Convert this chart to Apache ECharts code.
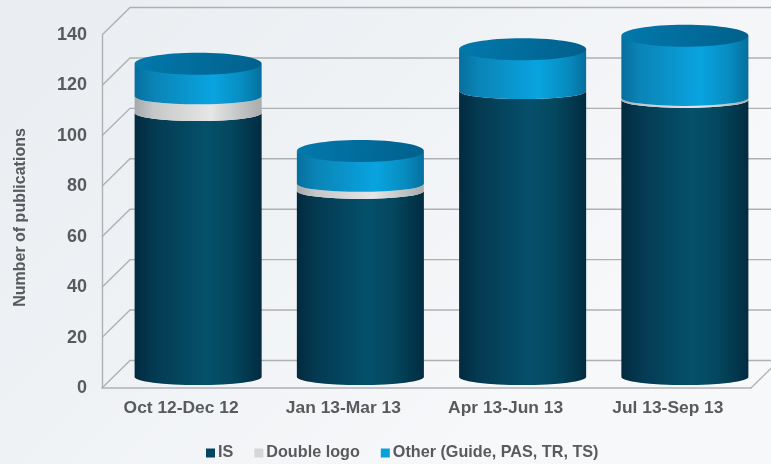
<!DOCTYPE html>
<html>
<head>
<meta charset="utf-8">
<style>html,body{margin:0;padding:0;background:#f0f2f5;overflow:hidden}#c{width:771px;height:464px}</style>
<script src="https://cdn.jsdelivr.net/npm/echarts@6/dist/echarts.min.js"></script>
</head>
<body>
<div id="c"></div>
<script>
var categories = ['Oct 12-Dec 12', 'Jan 13-Mar 13', 'Apr 13-Jun 13', 'Jul 13-Sep 13'];
var isValues = [104.7, 73.8, 113.4, 109.9];
var doubleLogoValues = [6.6, 2.8, 0, 0.8];
var otherValues = [12.9, 13, 16.6, 24.6];
var yTicks = [0, 20, 40, 60, 80, 100, 120, 140];

var DEPTH_X = 28, DEPTH_Y = 27.5, BAR_DX = 15, BAR_DY = 11, BAR_RATIO = 0.783, RY = 8, RY_TOP = 11;
var GRID_COLOR = '#aeb1b4', TEXT_COLOR = '#595a5c';

function hGrad(stops) {
  return {type: 'linear', x: 0, y: 0, x2: 1, y2: 0,
    colorStops: stops.map(function (s) { return {offset: s[0], color: s[1]}; })};
}
var STYLES = {
  is: hGrad([[0, '#022a3e'], [0.15, '#043a51'], [0.55, '#05506b'], [0.75, '#04485f'], [1, '#022c41']]),
  dl: hGrad([[0, '#a6a8a9'], [0.15, '#c6c7c8'], [0.6, '#e6e6e6'], [1, '#a9abac']]),
  other: hGrad([[0, '#066f9e'], [0.15, '#0a84b6'], [0.62, '#09a4e0'], [0.85, '#078cc0'], [1, '#056f9e']])
};
var CAP_FILL = {type: 'linear', x: 0, y: 0, x2: 1, y2: 1,
  colorStops: [{offset: 0, color: '#0279ac'}, {offset: 0.6, color: '#016a99'}, {offset: 1, color: '#01608c'}]};

var cum0 = isValues.map(function (v) { return 0; });
var cum1 = isValues.slice();
var cum2 = isValues.map(function (v, i) { return v + doubleLogoValues[i]; });
var cum3 = cum2.map(function (v, i) { return v + otherValues[i]; });

function cylinder(fill, hasCap) {
  return function (params, api) {
    var lo = api.coord([api.value(0), api.value(1)]);
    var hi = api.coord([api.value(0), api.value(2)]);
    var bw = api.size([1, 0])[0] * BAR_RATIO;
    var cx = lo[0] + BAR_DX;
    var y0 = lo[1] - BAR_DY, y1 = hi[1] - BAR_DY;
    var xl = cx - bw / 2, xr = cx + bw / 2, rx = bw / 2;
    var children = [];
    if (y0 - y1 > 0.01) {
      var p = 'M' + xl + ' ' + y1 +
        ' A' + rx + ' ' + RY + ' 0 0 0 ' + xr + ' ' + y1 +
        ' L' + xr + ' ' + y0 +
        ' A' + rx + ' ' + RY + ' 0 0 1 ' + xl + ' ' + y0 + ' Z';
      children.push({type: 'path', shape: {pathData: p, x: xl, y: y1, width: bw, height: y0 - y1 + RY, layout: 'cover'},
        style: {fill: fill}});
    }
    if (hasCap) {
      children.push({type: 'ellipse', shape: {cx: cx, cy: y1, rx: rx, ry: RY_TOP}, style: {fill: CAP_FILL}});
    }
    return {type: 'group', children: children};
  };
}

function wall(params, api) {
  var v = api.value(0);
  var a = api.coord([0, v]);
  var cs = params.coordSys;
  var xL = cs.x, xR = cs.x + cs.width;
  var children = [{type: 'polyline', shape: {points: [[xL, a[1]], [xL + DEPTH_X, a[1] - DEPTH_Y], [xR + DEPTH_X, a[1] - DEPTH_Y]]},
    style: {stroke: GRID_COLOR, lineWidth: 1.4, fill: null}}];
  if (v === 0) {
    children.push({type: 'line', shape: {x1: xR, y1: a[1], x2: xR + DEPTH_X, y2: a[1] - DEPTH_Y},
      style: {stroke: GRID_COLOR, lineWidth: 1.4}});
  }
  return {type: 'group', children: children};
}

function rows(base, top) {
  return categories.map(function (c, i) { return [i, base[i], top[i]]; });
}
var baseSeries = {type: 'custom', encode: {x: 0, y: [1, 2]}, silent: true, animation: false};

var chart = echarts.init(document.getElementById('c'), null, {renderer: 'canvas'});
chart.setOption({
  animation: false,
  backgroundColor: {type: 'linear', x: 0, y: 0, x2: 0.6, y2: 1,
    colorStops: [{offset: 0, color: '#e9edf1'}, {offset: 0.5, color: '#eff2f5'}, {offset: 1, color: '#f7f8fa'}]},
  grid: {left: 102, top: 35, width: 649, height: 353, containLabel: false},
  legend: {
    left: 206, top: 445, padding: 0, itemWidth: 9, itemHeight: 9, itemGap: 21, icon: 'rect',
    data: ['IS', 'Double logo', 'Other (Guide, PAS, TR, TS)'],
    textStyle: {color: TEXT_COLOR, fontFamily: 'Liberation Sans', fontWeight: 'bold', fontSize: 16.2, padding: [0, 0, 0, -2]}
  },
  xAxis: {
    type: 'category', data: categories,
    axisTick: {show: false},
    axisLine: {lineStyle: {color: GRID_COLOR, width: 1.6}},
    axisLabel: {color: TEXT_COLOR, fontFamily: 'Liberation Sans', fontWeight: 'bold', fontSize: 17.4, margin: 12, padding: [0, 4, 0, 0]}
  },
  yAxis: {
    type: 'value', min: 0, max: 140, interval: 20,
    name: 'Number of publications', nameLocation: 'middle', nameRotate: 90, nameGap: 73,
    nameTextStyle: {color: TEXT_COLOR, fontFamily: 'Liberation Sans', fontWeight: 'bold', fontSize: 16, padding: [0, 12, 0, 0]},
    splitLine: {show: false},
    axisTick: {show: false},
    axisLine: {show: true, lineStyle: {color: GRID_COLOR, width: 1.4}},
    axisLabel: {color: TEXT_COLOR, fontFamily: 'Liberation Sans', fontWeight: 'bold', fontSize: 18, margin: 15, padding: [2, 0, 0, 0],
      formatter: function (v) { return yTicks.indexOf(v) >= 0 ? String(v) : ''; }}
  },
  series: [
    {type: 'custom', name: 'wall', silent: true, z: 1, data: yTicks.map(function (t) { return [t]; }),
      encode: {y: 0}, renderItem: wall},
    Object.assign({}, baseSeries, {name: 'IS', z: 2, itemStyle: {color: '#034560'},
      data: rows(cum0, cum1), renderItem: cylinder(STYLES.is, false)}),
    Object.assign({}, baseSeries, {name: 'Double logo', z: 3, itemStyle: {color: '#d6d7d8'},
      data: rows(cum1, cum2), renderItem: cylinder(STYLES.dl, false)}),
    Object.assign({}, baseSeries, {name: 'Other (Guide, PAS, TR, TS)', z: 4, itemStyle: {color: '#0aa0d8'},
      data: rows(cum2, cum3), renderItem: cylinder(STYLES.other, true)})
  ]
});
</script>
</body>
</html>
